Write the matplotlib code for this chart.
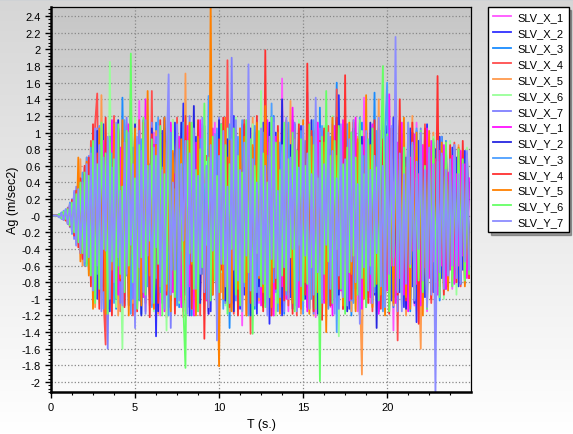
import numpy as np
import matplotlib
matplotlib.use("Agg")
import matplotlib.pyplot as plt
from matplotlib.lines import Line2D
from matplotlib.colors import LinearSegmentedColormap
from matplotlib.ticker import MultipleLocator

plt.rcParams['font.family'] = ['Liberation Sans', 'DejaVu Sans']

# sampling step of the accelerograms (s)
dt = 0.125

names = ['SLV_X_1', 'SLV_X_2', 'SLV_X_3', 'SLV_X_4', 'SLV_X_5', 'SLV_X_6', 'SLV_X_7',
         'SLV_Y_1', 'SLV_Y_2', 'SLV_Y_3', 'SLV_Y_4', 'SLV_Y_5', 'SLV_Y_6', 'SLV_Y_7']
colors = ['#ff55ff', '#3030ff', '#1a8cff', '#ff4d4d', '#ff9a4d', '#99ff99', '#7f7fff',
          '#ff10ff', '#2626e0', '#4d9fff', '#ff3030', '#ff8000', '#66ff66', '#8c8cff']

slv_x_1 = [0, 0, 0, 0, 0.01, -0.02, 0.03, -0.02, 0.05, -0.08,
           0.12, -0.15, 0.22, -0.3, 0.35, -0.28, 0.45, -0.52, 0.6, -0.4,
           0.75, -0.85, 0.5, -0.95, 1.02, -0.6, 0.3, -1.1, 0.82, -0.45,
           0.95, -0.2, -0.88, 0.62, -1.05, 0.4, 1.12, -0.7, 0.25, -0.98,
           0.7, -0.35, 1.38, -0.9, 0.55, -1.15, 0.85, 0.2, -0.62, 1.0,
           -0.78, 0.45, -1.2, 0.92, -0.3, 0.68, -0.95, 1.1, -0.5, 0.38,
           -1.02, 0.88, -0.65, 1.15, -0.4, -0.85, 0.72, -1.1, 0.98, -0.25,
           0.6, -0.92, 1.05, -0.7, 0.35, -1.18, 0.82, -0.48, 1.12, -0.88,
           0.52, -0.3, 0.95, -1.05, 0.7, -0.58, 1.2, -0.92, 0.4, -0.75,
           1.0, -1.32, 0.62, -0.35, 0.88, -0.98, 1.08, -0.6, 0.28, -1.05,
           0.78, -0.45, 1.15, -0.82, 0.5, -1.2, 0.92, -0.7, 0.35, -0.95,
           1.65, -0.75, 0.98, -1.15, 0.45, -0.62, 1.1, -0.88, 0.72, -0.3,
           -1.0, 0.85, -0.55, 1.12, -0.95, 0.4, -1.22, 0.68, 1.05, -0.5,
           0.8, -0.98, 0.3, -1.1, 1.18, -0.65, 0.55, -0.88, 1.0, -0.42,
           -0.72, 1.1, -0.95, 0.62, -0.3, 0.92, -1.15, 0.75, -0.6, 1.42,
           -0.85, 0.48, -1.05, 0.88, -0.4, 0.7, -1.12, 1.02, -0.55, 0.35,
           1.0, -0.9, 0.6, -1.38, 0.82, -0.45, 1.1, -0.7, 0.3, -1.0,
           0.92, -0.62, 0.48, -1.08, 1.12, -0.85, 0.55, -0.35, 0.98, -1.15,
           0.7, -0.5, 0.9, -0.82, 0.62, -0.95, 0.78, -0.4, 0.85, -0.7,
           0.5, -0.88, 0.68, -0.3, 0.75, -0.62, 0.45, -0.8, 0.6, -0.5]
slv_x_2 = [0, 0, 0, 0, -0.01, 0.02, -0.04, 0.03, -0.06, 0.1,
           -0.14, 0.2, -0.18, 0.28, -0.35, 0.42, -0.5, 0.38, -0.62, 0.7,
           -0.55, 0.85, -1.0, 0.6, -0.78, 1.1, -0.45, 0.92, -1.15, 0.3,
           0.68, -0.9, 1.05, -0.5, 0.82, -1.08, 0.4, -0.72, 1.0, -0.6,
           0.35, -1.12, 0.9, -0.25, 1.15, -0.82, 0.58, -0.95, 0.72, 0.85,
           -1.45, 0.6, -0.38, 1.02, -0.88, 0.45, -1.1, 0.78, -0.55, 1.12,
           -0.7, 0.3, -0.98, 1.35, -0.6, 0.85, -1.2, 0.5, -0.32, 0.95,
           -1.05, 0.72, -0.45, 1.08, -0.9, 0.6, -1.15, 0.88, -0.28, 0.55,
           -0.82, 1.1, -0.62, 0.4, -1.0, 0.92, -0.75, 1.2, -0.5, 0.3,
           -1.12, 0.85, -0.95, 0.62, -0.38, 1.05, -0.8, 0.48, -1.18, 0.9,
           -0.6, 1.12, -0.3, 0.78, -1.3, 0.58, -0.9, 1.0, -0.72, 0.35,
           -1.2, 0.95, -0.48, 0.7, -0.98, 1.15, -0.62, 0.4, -0.85, 1.08,
           -0.75, 0.52, -1.1, 0.88, -0.35, 1.02, -0.92, 0.65, -1.25, 0.8,
           -0.45, 1.1, -0.7, 0.3, -1.02, 0.9, -0.58, 1.45, -0.82, 0.48,
           -0.98, 0.72, -1.12, 1.0, -0.4, 0.62, -0.9, 1.12, -0.55, 0.85,
           -1.08, 0.38, -0.7, 1.05, -0.95, 0.6, -1.15, 0.82, -0.32, 1.0,
           -0.78, 0.55, -1.02, 1.18, -0.65, 0.42, -0.92, 0.98, -1.1, 0.7,
           -0.5, 1.05, -0.85, 0.32, -1.28, 0.9, -0.62, 0.75, -0.98, 1.1,
           -0.7, 0.58, -0.92, 0.8, -0.45, 0.95, -0.75, 0.62, -0.88, 0.5,
           -0.6, 0.82, -0.4, 0.7, -0.85, 0.55, -0.65, 0.78, -0.5, 0.4]
slv_x_3 = [0, 0, 0, 0, 0.02, -0.03, 0.02, -0.05, 0.08, -0.12,
           0.18, -0.22, 0.3, -0.25, 0.42, -0.38, 0.5, -0.6, 0.45, -0.7,
           0.85, -0.5, 0.62, -0.92, 1.0, -0.75, 0.4, -1.05, 0.88, -0.3,
           0.72, -1.12, 0.55, -0.85, 1.42, -0.4, 0.9, -0.62, 0.28, -1.0,
           1.05, -0.7, 0.48, -1.18, 0.8, -0.35, 0.95, -0.9, 0.6, -0.5,
           1.12, -0.82, 0.3, -1.05, 0.7, -0.58, 1.2, -0.95, 0.45, -0.72,
           0.88, -1.1, 0.62, -0.4, 1.02, -0.88, 0.5, -1.2, 0.75, -0.32,
           1.1, -0.65, 0.92, -1.0, 0.38, -0.78, 1.18, -0.55, 0.68, -1.08,
           0.82, -0.45, 1.05, -0.92, 0.58, -1.35, 0.3, -0.7, 0.98, -0.85,
           0.52, -1.02, 1.15, -0.6, 0.78, -0.35, 0.9, -1.12, 0.65, -0.48,
           1.08, -0.88, 0.4, -1.0, 0.85, -0.72, 1.2, -0.5, 0.32, -0.95,
           0.7, -1.18, 0.95, -0.62, 0.48, -0.88, 1.1, -0.75, 0.58, -1.05,
           0.9, -0.4, 1.02, -1.12, 0.65, -0.3, 0.82, -0.98, 1.3, -0.6,
           0.42, -1.05, 0.75, -0.85, 1.0, -0.5, 1.6, -0.92, 0.55, -1.1,
           0.88, -0.68, 0.3, -1.2, 1.05, -0.45, 0.72, -0.9, 1.12, -0.62,
           0.5, -0.98, 0.85, -0.35, 1.48, -1.02, 0.62, -0.75, 0.95, -0.5,
           1.0, -0.82, 0.4, -1.1, 0.78, -0.6, 1.08, -0.92, 0.55, -0.3,
           0.92, -1.15, 0.68, -0.48, 1.02, -0.85, 0.35, -1.0, 0.8, -0.65,
           0.6, -0.9, 0.85, -0.52, 0.72, -1.02, 0.48, -0.7, 0.9, -0.58,
           0.7, -0.45, 0.62, -0.8, 0.52, -0.6, 0.78, -0.42, 0.65, -0.55]
slv_x_4 = [0, 0, 0, 0, -0.01, 0.03, -0.05, 0.04, -0.1, 0.15,
           -0.12, 0.25, -0.3, 0.35, -0.45, 0.3, -0.6, 0.7, -0.5, 0.9,
           -0.75, 1.1, 1.47, -0.8, 0.6, -1.0, -1.55, 0.7, 1.02, -0.45,
           1.2, -0.9, 0.55, -1.15, 0.8, -0.35, 1.08, -0.98, 0.62, -1.2,
           0.92, -0.5, 1.15, -0.82, 0.3, -1.05, 0.75, -0.6, 1.5, -0.95,
           0.48, -1.1, 0.88, -0.7, 1.05, -1.22, 0.62, -0.4, 0.98, -0.85,
           1.18, -0.62, 0.35, -1.15, 0.9, -0.75, 1.1, -1.02, 0.5, -0.3,
           0.85, -1.2, 1.0, -0.58, 0.72, -0.92, 1.45, -0.45, 0.6, -1.1,
           0.95, -0.68, 0.4, -1.05, 1.87, -0.88, 0.55, -1.18, 1.02, -0.62,
           0.78, -0.95, 1.15, -0.35, 0.65, -1.42, 0.9, -0.72, 1.05, -0.5,
           0.42, -1.0, 1.2, -0.85, 0.58, -0.62, 0.98, -1.15, 0.7, -0.4,
           1.12, -0.9, 0.62, -1.08, 0.3, -0.78, 1.05, -1.2, 0.85, -0.55,
           0.95, -0.68, 1.18, -0.42, 0.75, -1.1, 0.5, -0.92, 1.0, -1.25,
           0.6, -0.35, 1.08, -0.98, 0.82, -0.62, 1.52, -0.85, 0.45, -1.12,
           0.9, -0.72, 0.55, -1.02, 1.15, -0.48, 0.78, -1.2, 0.62, -0.9,
           1.05, -0.58, 0.85, -1.15, 0.38, -0.8, 1.18, -0.95, 0.7, -0.42,
           0.98, -1.08, 0.6, -0.75, 1.12, -1.5, 0.82, -0.5, 0.92, -1.0,
           0.55, -0.88, 1.05, -0.62, 0.72, -1.15, 0.45, -0.95, 1.1, -0.7,
           0.85, -1.05, 0.62, -0.4, 0.9, -0.78, 0.55, -0.92, 0.7, -0.6,
           0.75, -0.5, 0.88, -0.72, 0.45, -0.85, 0.62, -0.55, 0.8, -0.65]
slv_x_5 = [0, 0, 0, 0, 0.01, -0.02, 0.04, -0.03, 0.07, -0.1,
           0.15, -0.2, 0.28, -0.3, 0.68, -0.6, 0.4, -0.52, 0.62, -0.75,
           0.9, -1.1, 0.55, -0.82, 1.45, -0.45, 0.68, -1.15, 0.35, 1.02,
           -0.58, 0.85, -1.2, 0.4, 0.7, -0.95, 1.1, -0.72, 0.3, -1.05,
           0.98, -0.6, 0.48, -0.8, 1.12, -0.38, 0.62, -1.08, 0.88, -0.5,
           1.02, -1.18, 0.6, -0.3, 0.9, -0.92, 0.75, -0.65, 1.15, -1.0,
           0.42, -0.75, 0.68, -1.22, 1.71, -0.85, 0.95, -0.58, 0.32, -1.1,
           1.08, -0.85, 0.72, -1.0, 0.5, -0.4, 1.2, -0.62, 0.88, -1.25,
           0.55, -0.92, 1.12, -0.78, 0.65, -1.15, 0.4, -0.7, 0.98, -0.58,
           1.05, -0.35, 0.85, -1.2, 0.62, -0.88, 1.18, -0.5, 0.3, -1.02,
           0.92, -0.68, 1.15, -0.9, 0.45, -0.6, 1.05, -1.12, 0.78, -0.42,
           0.6, -1.05, 0.95, -0.72, 1.38, -0.55, 0.38, -0.98, 0.82, -1.18,
           0.7, -0.45, 1.08, -0.85, 0.52, -1.2, 0.9, -0.62, 1.0, -0.78,
           0.35, -1.1, 0.75, -0.58, 1.15, -0.92, 0.62, -0.4, 1.02, -1.05,
           0.88, -0.68, 0.55, -1.15, 0.72, -0.5, 0.95, -0.82, -1.91, 0.6,
           1.1, -0.75, 0.4, -1.0, 0.85, -0.62, 1.4, -0.9, 0.5, -1.12,
           0.98, -0.55, 0.7, -1.08, 0.32, -0.85, 1.05, -0.68, 0.9, -1.2,
           0.62, -0.4, 1.2, -0.95, 0.75, -0.58, -1.6, 0.85, 0.48, -1.0,
           0.7, -0.85, 1.0, -0.62, 0.55, -0.92, 0.78, -0.5, 0.88, -0.72,
           0.6, -0.8, 0.5, -0.65, 0.85, -0.45, 0.7, -0.75, 0.55, -0.6]
slv_x_6 = [0, 0, 0, 0, -0.02, 0.03, -0.04, 0.06, -0.09, 0.12,
           -0.18, 0.24, -0.2, 0.32, -0.4, 0.48, -0.55, 0.62, -0.7, 0.5,
           0.8, -0.95, 0.6, -1.05, 0.88, -0.4, 1.12, -0.7, 1.85, -0.55,
           0.65, -1.1, 0.92, -0.35, -1.6, 0.75, -0.6, 1.05, -0.88, 0.42,
           1.18, -0.82, 0.55, -1.0, 0.7, -0.3, 1.1, -0.92, 0.6, -1.15,
           0.85, -0.48, 1.02, -0.72, 0.38, -1.38, 0.95, -0.6, 1.15, -0.85,
           0.52, -1.05, 0.78, -0.42, 1.2, -0.9, 0.62, -1.12, 0.3, -0.7,
           1.0, -0.58, 0.88, -1.18, 0.65, -0.8, 1.12, -0.35, 0.72, -1.0,
           0.95, -0.68, 0.45, -1.08, 1.05, -0.55, 0.82, -0.92, 1.18, -0.4,
           0.6, -1.15, 0.9, -0.75, 0.35, -1.02, 1.1, -0.62, 0.78, -0.88,
           1.5, -0.5, 0.68, -1.1, 0.92, -0.72, 0.4, -1.2, 1.0, -0.6,
           0.85, -0.95, 1.12, -0.38, 0.58, -1.05, 0.8, -0.7, 1.15, -0.92,
           0.48, -0.62, 1.05, -1.18, 0.75, -0.45, 0.95, -0.85, 0.3, -1.1,
           1.08, -0.78, 0.62, -1.0, 1.2, -0.55, 0.72, -1.45, 0.9, -0.4,
           0.58, -0.98, 1.15, -0.68, 0.82, -1.12, 0.45, -0.88, 1.02, -0.6,
           0.92, -0.35, 0.7, -1.05, 1.1, -0.8, 0.55, -0.95, 1.18, -0.72,
           0.4, -1.15, 0.88, -0.62, 1.0, -0.48, 0.75, -1.08, 0.6, -0.92,
           1.12, -0.7, 0.52, -0.98, 0.85, -0.4, 1.05, -0.82, 0.65, -1.1,
           0.78, -0.55, 0.95, -0.88, 0.62, -0.72, 0.85, -1.0, 0.5, -0.65,
           0.9, -0.6, 0.72, -0.95, 0.55, -0.78, 0.68, -0.5, 0.82, -0.7]
slv_x_7 = [0, 0, 0, 0, 0.02, -0.04, 0.06, -0.05, 0.1, -0.14,
           0.2, -0.28, 0.35, -0.3, 0.4, -0.5, 0.58, -0.45, 0.72, -0.8,
           0.6, -0.98, 1.05, -0.65, 0.9, -1.12, 0.5, -1.6, 0.75, -0.4,
           1.1, -0.85, 0.62, -1.05, 0.3, -0.72, 1.18, -0.55, 0.88, -1.0,
           0.45, -0.92, 1.02, -0.6, 0.78, -1.18, 0.35, -0.82, 1.12, -0.48,
           0.95, -1.08, 0.6, -0.4, 1.15, -0.75, 0.88, -1.35, 0.52, -0.65,
           1.05, -0.3, 0.72, -1.1, 0.92, -0.58, 1.2, -0.88, 0.42, -1.02,
           0.8, -0.62, 1.1, -0.95, 0.5, -1.15, 0.68, -0.35, 0.98, -0.78,
           1.18, -0.55, 0.85, -1.05, 0.4, -0.9, 1.9, -0.72, 0.62, -1.12,
           0.9, -0.45, 1.05, -0.85, 0.58, -1.2, 0.75, -0.62, 1.15, -0.98,
           0.35, -0.8, 1.0, -1.1, 0.7, -0.5, 1.18, -0.92, 0.6, -0.38,
           1.02, -1.15, 0.82, -0.65, 0.48, -1.0, 1.12, -0.72, 0.9, -0.55,
           0.62, -0.95, 1.48, -0.42, 0.78, -1.18, 0.55, -0.85, 1.05, -0.68,
           0.92, -1.05, 0.4, -0.75, 1.1, -0.6, 0.85, -1.12, 0.7, -0.3,
           1.15, -0.88, 0.6, -1.02, 0.95, -0.5, 0.72, -1.2, 0.45, -0.82,
           1.0, -0.65, 0.88, -0.4, 1.12, -0.98, 0.55, -0.72, 1.38, -1.08,
           0.68, -0.48, 1.02, -0.9, 0.35, -1.15, 0.82, -0.6, 0.95, -0.78,
           1.1, -1.0, 0.58, -0.68, 0.88, -0.45, 1.05, -0.92, 0.62, -1.12,
           0.75, -0.62, 0.9, -0.8, 0.52, -0.98, 0.7, -0.55, 0.85, -0.72,
           0.62, -0.85, 0.48, -0.7, 0.78, -0.58, 0.65, -0.82, 0.5, -0.6]
slv_y_1 = [0, 0, 0, 0, -0.01, 0.03, -0.02, 0.05, -0.07, 0.1,
           -0.15, 0.2, -0.26, 0.3, -0.38, 0.45, -0.4, 0.55, -0.65, 0.72,
           -0.88, 0.6, -0.45, 1.05, -0.72, 0.9, -1.1, 0.38, -0.8, 1.15,
           -0.6, 0.3, -0.95, 0.82, -1.05, 0.55, -0.42, 1.1, -0.88, 0.68,
           -1.18, 0.92, -0.35, 0.62, -0.98, 1.4, -0.7, 0.45, -1.08, 0.85,
           -0.52, 1.02, -0.8, 0.38, -1.15, 0.75, -0.6, 1.12, -0.92, 0.5,
           -0.3, 0.95, -1.1, 0.7, -0.55, 1.08, -0.85, 0.42, -1.2, 0.88,
           -0.68, 1.15, -0.4, 0.82, -1.02, 0.6, -0.92, 1.05, -0.5, 0.32,
           -1.12, 0.78, -0.62, 1.18, -0.88, 0.48, -1.05, 0.92, -0.35, 0.7,
           -0.95, 1.1, -0.72, 0.55, -1.18, 0.85, -0.45, 1.0, -0.8, 0.62,
           -1.08, 0.4, -0.9, 1.15, -0.6, 0.75, -1.2, 0.95, -0.3, 0.58,
           -0.85, 1.05, -1.0, 0.68, -0.5, 1.3, -0.78, 0.35, -1.1, 0.9,
           -0.62, 0.82, -1.15, 1.02, -0.42, 0.7, -0.98, 1.12, -0.72, 0.5,
           -1.05, 0.92, -0.55, 0.3, -1.2, 1.08, -0.68, 0.6, -0.9, 1.15,
           -0.38, 0.72, -1.02, 0.88, -0.62, 1.18, -0.85, 0.45, -1.12, 0.95,
           -0.7, 0.55, -0.98, 1.1, -0.48, 0.82, -1.18, 0.65, -0.32, 1.02,
           -0.9, 1.46, -0.6, 0.4, -1.05, 0.88, -0.75, 1.12, -0.95, 0.58,
           -1.15, 0.7, -0.42, 0.98, -0.82, 0.5, -1.08, 0.85, -0.62, 1.05,
           -0.75, 0.9, -0.55, 0.68, -0.95, 0.78, -0.6, 0.85, -0.88, 0.52,
           -0.65, 0.72, -0.82, 0.5, -0.6, 0.78, -0.48, 0.62, -0.75, 0.45]
slv_y_2 = [0, 0, 0, 0, 0.01, -0.02, 0.03, -0.04, 0.06, -0.11,
           0.16, -0.18, 0.25, -0.32, 0.28, -0.42, 0.5, -0.58, 0.48, -0.65,
           0.78, -0.92, 1.02, -0.5, 0.68, -0.85, 0.3, -1.12, 0.95, -0.62,
           0.42, -1.0, 1.15, -0.75, 0.58, -0.3, 0.9, -1.08, 0.72, -0.45,
           1.1, -0.9, 0.5, -1.2, 0.82, -0.62, 0.35, -0.98, 1.05, -0.7,
           0.62, -1.15, 0.88, -0.4, 1.18, -0.8, 0.55, -1.02, 0.75, -0.32,
           0.98, -0.68, 1.12, -0.92, 0.4, -1.1, 0.7, -0.55, 1.32, -0.85,
           0.5, -1.05, 0.85, -0.62, 0.3, -1.18, 1.02, -0.75, 0.62, -0.9,
           1.15, -0.45, 0.72, -1.02, 0.92, -0.6, 0.48, -1.15, 0.88, -0.38,
           0.68, -0.95, 1.08, -0.72, 0.55, -1.2, 0.82, -0.5, 1.0, -0.85,
           0.4, -1.1, 0.95, -0.65, 1.12, -0.88, 0.6, -0.35, 0.78, -1.05,
           1.4, -0.7, 0.52, -0.92, 0.85, -1.12, 0.68, -0.48, 1.05, -0.8,
           0.58, -1.0, 0.92, -0.62, 1.15, -0.4, 0.72, -1.18, 0.45, -0.9,
           1.02, -0.55, 0.8, -1.08, 0.35, -0.75, 1.18, -0.95, 0.62, -0.42,
           0.88, -1.15, 0.55, -0.7, 1.05, -0.88, 0.4, -1.0, 0.95, -0.6,
           0.7, -0.92, 1.12, -0.5, 0.62, -1.35, 0.85, -0.72, 0.3, -1.05,
           1.08, -0.62, 0.78, -0.98, 0.5, -0.85, 1.15, -0.4, 0.9, -1.12,
           0.6, -0.75, 1.0, -1.05, 0.72, -0.55, 0.92, -0.88, 0.45, -0.7,
           0.85, -0.6, 0.7, -0.92, 0.58, -0.78, 0.95, -0.5, 0.72, -0.85,
           0.55, -0.7, 0.8, -0.48, 0.65, -0.82, 0.5, -0.62, 0.75, -0.55]
slv_y_3 = [0, 0, 0, 0, -0.02, 0.04, -0.05, 0.08, -0.1, 0.16,
           -0.22, 0.28, -0.35, 0.4, -0.32, 0.52, -0.6, 0.7, -0.55, 0.82,
           -0.95, 0.65, -0.7, 1.08, -0.82, 0.5, -1.12, 0.9, -0.4, 0.75,
           -1.05, 0.98, -0.6, 0.35, -0.88, 1.15, -0.72, 0.55, -1.18, 0.82,
           -0.45, 0.7, -1.02, 0.92, -0.3, 1.05, -0.85, 0.62, -1.1, 0.4,
           -0.75, 1.18, -0.92, 0.58, -0.5, 0.88, -1.2, 1.0, -0.65, 0.32,
           -1.08, 0.8, -0.42, 1.12, -0.95, 0.68, -0.58, 1.02, -0.82, 0.48,
           -1.15, 0.92, -0.7, 0.38, -1.0, 1.44, -0.62, 0.75, -0.35, 1.05,
           -0.88, 0.55, -1.12, 0.85, -0.72, 1.1, -0.48, 0.62, -1.02, 0.95,
           -0.6, 1.15, -0.85, 0.42, -1.2, 0.78, -0.55, 1.08, -0.92, 0.68,
           -0.38, 1.0, -1.05, 0.72, -0.62, 1.35, -0.8, 0.5, -1.15, 0.88,
           -0.7, 0.62, -0.95, 1.12, -0.45, 0.85, -1.08, 0.35, -0.78, 1.02,
           -1.18, 0.9, -0.58, 0.7, -1.0, 1.15, -0.68, 0.48, -0.9, 1.08,
           -0.52, 0.78, -1.12, 0.95, -0.4, 0.62, -1.4, 1.05, -0.75, 0.3,
           -0.98, 1.1, -0.65, 0.82, -1.05, 0.55, -0.85, 1.18, -0.48, 0.72,
           -1.1, 0.88, -0.7, 0.45, -0.92, 1.02, -0.6, 0.8, -1.15, 0.98,
           1.6, -0.78, 0.6, -1.02, 0.88, -0.5, 1.12, -0.92, 0.68, -0.35,
           0.95, -1.1, 0.72, -0.62, 1.05, -0.85, 0.5, -1.0, 0.82, -0.58,
           0.7, -0.9, 0.88, -0.55, 0.62, -0.75, 0.95, -0.68, 0.5, -0.82,
           0.6, -0.72, 0.85, -0.5, 0.68, -0.8, 0.55, -0.65, 0.72, -0.58]
slv_y_4 = [0, 0, 0, 0, 0.01, -0.02, 0.04, -0.06, 0.09, -0.13,
           0.19, -0.24, 0.3, -0.38, 0.45, -0.52, 0.6, -0.48, 0.7, -0.85,
           1.1, -0.62, 0.75, -1.12, 0.4, -0.9, 1.18, -0.55, 0.82, -1.2,
           0.95, -0.35, 1.02, -0.78, 0.6, -1.1, 0.88, -0.65, 1.46, -0.42,
           0.72, -1.15, 0.5, -0.92, 1.12, -0.7, 0.35, -1.22, 0.98, -0.58,
           0.85, -1.05, 1.15, -0.48, 0.62, -0.95, 1.08, -0.8, 0.45, -1.18,
           1.02, -0.72, 0.58, -1.0, 1.2, -0.4, 0.9, -1.12, 0.68, -0.88,
           1.15, -0.55, 0.82, -1.48, 0.5, -0.78, 1.05, -0.95, 0.38, -1.08,
           0.92, -0.65, 1.18, -0.85, 0.7, -1.1, 0.55, -0.42, 1.02, -1.2,
           0.62, -0.9, 1.1, -0.72, 0.88, -1.05, 0.4, -0.82, 1.2, -0.6,
           0.78, -1.15, 1.99, -0.7, 0.95, -1.2, 0.52, -0.88, 1.08, -0.45,
           0.65, -1.02, 1.15, -0.92, 0.42, -1.18, 0.85, -0.62, 1.1, -0.8,
           0.5, -0.95, 1.83, -0.68, 1.02, -1.15, 0.72, -0.4, 0.9, -1.25,
           1.05, -0.58, 0.62, -1.08, 0.95, -0.75, 1.18, -0.88, 0.45, -1.12,
           1.69, -0.82, 0.7, -1.0, 1.12, -0.5, 0.88, -1.2, 0.6, -0.72,
           1.0, -1.05, 0.55, -0.9, 1.15, -0.62, 0.78, -1.12, 0.92, -0.38,
           0.68, -1.18, 1.05, -0.75, 0.5, -0.95, 1.4, -0.58, 0.82, -1.02,
           0.95, -0.62, 1.12, -0.88, 0.7, -1.3, 0.85, -0.52, 1.05, -0.9,
           0.62, -1.0, 0.72, -0.55, 1.68, -0.85, 0.6, -0.95, 0.78, -0.7,
           0.85, -0.62, 0.55, -0.8, 0.72, -0.68, 0.9, -0.5, 0.65, -0.75]
slv_y_5 = [0, 0, 0, 0, -0.01, 0.02, -0.03, 0.05, -0.08, 0.12,
           -0.16, 0.25, -0.3, 0.7, -0.55, 0.38, -0.48, 0.65, -0.72, 0.58,
           -1.12, 0.8, -0.45, 1.05, -0.92, 0.6, -1.18, 0.3, 0.88, -0.65,
           1.1, -0.98, 0.5, -0.75, 1.15, -0.4, 0.92, -1.2, 0.68, -0.55,
           1.05, -0.85, 0.35, -1.08, 0.98, -0.62, 1.5, -0.72, 0.48, -1.12,
           0.85, -0.3, 0.62, -1.0, 1.18, -0.9, 0.55, -1.15, 0.78, -0.45,
           1.08, -0.68, 0.92, -1.05, 0.4, -0.82, 1.12, -0.58, 0.7, -1.2,
           0.95, -0.5, 1.05, -0.88, 0.32, -1.1, 2.6, -0.95, 0.6, -0.4,
           -1.81, 0.72, -1.0, 1.18, -0.62, 0.9, -1.15, 0.45, 0.8, -0.88,
           1.05, -0.6, 0.95, -1.2, 0.7, -0.35, 0.85, -1.02, 1.12, -0.75,
           0.62, -0.92, 1.32, -0.48, 0.88, -1.1, 0.55, -0.7, 1.0, -1.18,
           0.75, -0.42, 1.1, -0.95, 0.6, -1.05, 0.92, -0.68, 0.38, -1.12,
           1.15, -0.8, 0.68, -1.18, 0.95, -0.55, 1.05, -0.92, 0.48, -0.75,
           0.88, -1.4, 0.62, -0.4, 1.18, -0.98, 0.72, -0.6, 1.02, -1.08,
           0.55, -0.85, 1.12, -0.7, 0.35, -1.15, 0.92, -0.5, 0.78, -1.0,
           1.45, -0.62, 0.85, -1.1, 0.6, -0.82, 1.05, -0.95, 0.42, -1.2,
           0.95, -0.72, 0.5, -1.05, 1.1, -0.88, 0.68, -0.45, 1.18, -0.98,
           0.62, -1.12, 0.88, -0.58, 1.0, -0.75, 0.72, -1.2, 0.55, -0.85,
           1.02, -0.68, 0.82, -0.95, 0.6, -0.72, 0.88, -0.55, 0.75, -0.9,
           0.65, -0.78, 0.5, -0.62, 0.82, -0.7, 0.6, -0.85, 0.48, -0.55]
slv_y_6 = [0, 0, 0, 0, 0.02, -0.03, 0.05, -0.04, 0.08, -0.12,
           0.16, -0.2, 0.26, -0.32, 0.4, -0.45, 0.52, -0.6, 0.48, -0.72,
           0.9, -1.05, 0.62, -0.88, 1.12, -0.4, 0.75, -1.18, 0.95, -0.55,
           0.68, -1.0, 1.1, -0.7, 0.35, -0.92, 1.02, -0.6, 1.95, -0.8,
           0.45, -1.12, 0.85, -0.5, 1.18, -0.95, 0.6, -0.3, 0.92, -1.05,
           0.72, -0.58, 1.08, -1.2, 0.5, -0.82, 1.15, -0.65, 0.38, -0.98,
           1.02, -0.75, 0.62, -1.1, -1.83, 0.9, -0.45, 1.12, -0.88, 0.55,
           -1.15, 0.8, -0.62, 1.35, -0.35, 0.7, -1.02, 0.95, -0.78, 0.48,
           -0.92, 1.1, -0.58, 0.85, -1.18, 0.62, -0.4, 1.05, -0.95, 0.72,
           -1.08, 0.52, -0.8, 1.15, -0.68, 0.92, -1.42, 0.6, -0.45, 1.02,
           -0.85, 0.75, -1.1, 0.4, -0.98, 1.18, -0.62, 0.88, -1.05, 0.55,
           -0.72, 1.12, -0.9, 0.68, -0.5, 1.0, -1.15, 0.78, -0.35, 0.92,
           -1.02, 0.6, -0.82, 1.1, -0.62, 0.85, -1.12, 0.45, -1.99, 0.95,
           -0.7, 1.5, -0.55, 0.72, -1.05, 0.9, -0.4, 1.08, -0.88, 0.62,
           -1.18, 0.82, -0.68, 1.0, -0.48, 0.7, -0.95, 1.15, -0.75, 0.5,
           -1.1, 0.92, -0.6, 1.05, -0.85, 0.58, -1.02, 0.75, 1.8, -0.65,
           0.98, -1.15, 0.68, -0.5, 1.1, -0.9, 0.55, -1.05, 0.82, -0.7,
           1.12, -0.62, 0.85, -1.0, 0.45, -0.78, 1.02, -0.92, 0.6, -1.12,
           0.75, -0.58, 0.92, -0.8, 0.65, -0.98, 0.72, -0.6, 0.88, -0.7,
           0.58, -0.85, 0.7, -0.62, 0.8, -0.5, 0.68, -0.78, 0.55, -0.7]
slv_y_7 = [0, 0, 0, 0, -0.02, 0.03, -0.05, 0.07, -0.1, 0.14,
           -0.2, 0.3, -0.36, 0.32, -0.45, 0.4, -0.55, 0.62, -0.5, 0.75,
           -0.9, 1.05, -0.6, 0.85, -1.15, 0.7, -0.42, 0.95, -1.0, 0.58,
           -0.8, 1.12, -0.5, 0.3, -1.08, 0.88, -0.7, 1.0, -0.35, 0.62,
           -1.35, 0.95, -0.62, 0.78, -0.92, 1.15, -0.48, 0.6, -1.05, 0.82,
           -0.38, 1.08, -0.85, 0.55, -1.12, 0.72, 1.7, -0.95, 0.4, -0.65,
           1.1, -1.02, 0.62, -0.3, 0.9, -1.18, 0.75, -0.55, 1.05, -0.88,
           0.48, -0.7, 1.18, -0.92, 0.6, -1.1, 0.85, -0.42, 0.98, -1.5,
           0.72, -0.58, 1.02, -0.85, 0.35, -1.05, 0.92, -0.65, 1.15, -0.78,
           0.55, -1.15, 0.88, -0.48, 1.82, -0.9, 0.68, -1.08, 0.4, -0.72,
           1.05, -0.82, 0.6, -1.2, 0.95, -0.52, 1.12, -0.75, 0.3, -0.98,
           0.85, -0.62, 1.18, -1.0, 0.7, -0.4, 0.92, -1.15, 0.58, -0.85,
           1.08, -0.48, 0.75, -1.12, 0.5, -0.95, 1.42, -0.68, 0.88, -1.05,
           0.62, -0.35, 1.0, -0.88, 0.78, -1.18, 0.45, -0.72, 1.1, -0.98,
           0.68, -1.08, 0.92, -0.55, 1.15, -0.8, 0.38, -1.3, 0.85, -0.62,
           1.02, -0.9, 0.55, -1.05, 0.72, -0.45, 1.18, -0.85, 0.6, -1.1,
           0.95, -0.7, 1.08, -0.6, 2.15, -0.92, 0.75, -1.15, 0.5, -0.82,
           1.12, -0.58, 0.88, -1.02, 0.65, -0.4, 1.0, -0.78, 0.55, -1.1,
           0.82, -0.95, 0.62, -2.2, 0.9, -0.68, 0.75, -0.88, 0.55, -0.72,
           0.68, -0.6, 0.85, -0.75, 0.5, -0.82, 0.62, -0.55, 0.78, -0.65]

series = [slv_x_1, slv_x_2, slv_x_3, slv_x_4, slv_x_5, slv_x_6, slv_x_7,
          slv_y_1, slv_y_2, slv_y_3, slv_y_4, slv_y_5, slv_y_6, slv_y_7]

fig = plt.figure(figsize=(5.73, 4.35), dpi=100)

# light grey window background, darker at the top
grad = np.linspace(0, 1, 256).reshape(-1, 1)
bg = fig.add_axes([0, 0, 1, 1], zorder=-10)
bg.imshow(grad, cmap=LinearSegmentedColormap.from_list('bg', ['#d6d6d6', '#ffffff']),
          aspect='auto', extent=[0, 1, 0, 1])
bg.set_axis_off()
fig.add_artist(Line2D([0, 1], [0.999, 0.999], color='#3d7cc9', lw=1.5))

xmin, xmax = 0, 24.99
ymin, ymax = -2.12, 2.51
ax = fig.add_axes([51 / 573, 1 - 393 / 435, 420 / 573, 385 / 435])
ax.imshow(grad, cmap=LinearSegmentedColormap.from_list('plot', ['#c6c6c6', '#fbfbfb']),
          aspect='auto', extent=[xmin, xmax, ymin, ymax], zorder=0)

for vals, name, col in zip(series, names, colors):
    t = np.arange(len(vals)) * dt
    ax.plot(t, vals, color=col, lw=1.3, label=name, zorder=2)

ax.set_xlim(xmin, xmax)
ax.set_ylim(ymin, ymax)
ax.xaxis.set_major_locator(MultipleLocator(5))
ax.xaxis.set_minor_locator(MultipleLocator(1.25))
yt = np.round(np.arange(-2.0, 2.41, 0.2), 1)
ax.set_yticks(yt)
ax.set_yticklabels(['%g' % v for v in yt])
ax.yaxis.set_minor_locator(MultipleLocator(0.04))
ax.tick_params(axis='both', which='major', labelsize=8, length=4, width=1, direction='out')
ax.tick_params(axis='both', which='minor', length=2, width=0.8, direction='out')
ax.grid(True, which='major', color='#888888', linestyle=':', linewidth=0.9)
ax.set_axisbelow(True)

for side in ['left', 'bottom']:
    ax.spines[side].set_linewidth(1.8)
for side in ['top', 'right']:
    ax.spines[side].set_linewidth(0.9)

ax.set_xlabel('T (s.)', fontsize=9, labelpad=4)
ax.set_ylabel('Ag (m/sec2)', fontsize=9, labelpad=2)

leg = ax.legend(loc='upper left', bbox_to_anchor=(488 / 573, 1 - 8 / 435),
                bbox_transform=fig.transFigure, fontsize=8, frameon=True,
                fancybox=False, shadow=True, borderaxespad=0,
                handlelength=1.6, handletextpad=0.6, labelspacing=0.52,
                borderpad=0.45)
leg.get_frame().set_edgecolor('black')
leg.get_frame().set_linewidth(1.0)
leg.get_frame().set_facecolor('white')

fig.savefig('out.png', dpi=100)
